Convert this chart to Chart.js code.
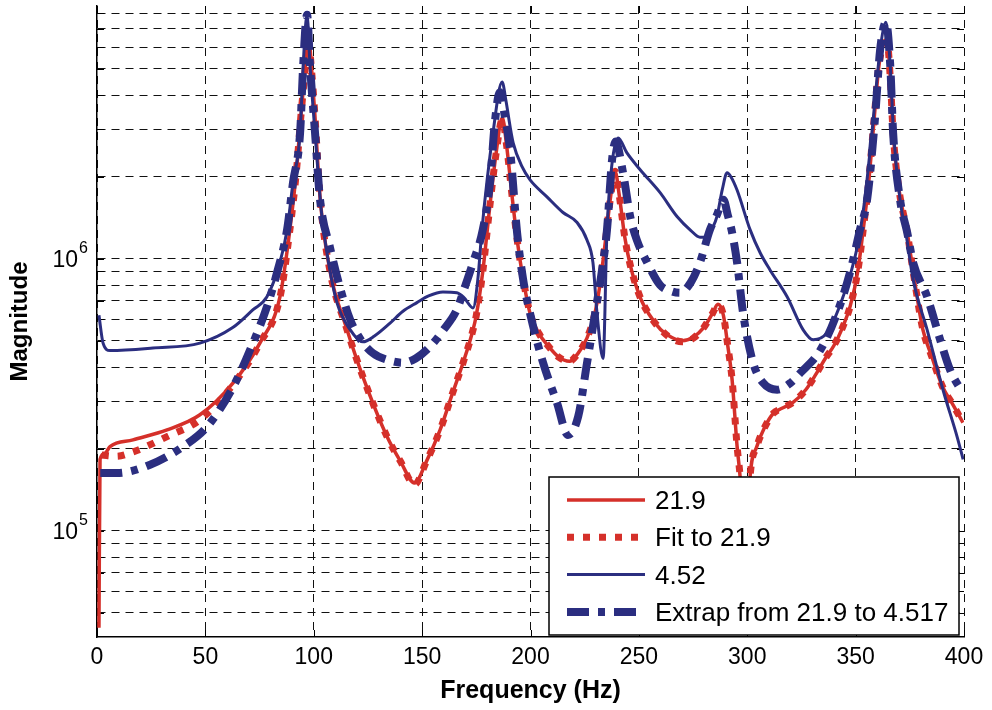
<!DOCTYPE html>
<html>
<head>
<meta charset="utf-8">
<script src="https://cdn.jsdelivr.net/npm/chart.js@4.4.1/dist/chart.umd.min.js"></script>
<style>
  html, body { margin: 0; padding: 0; background: #fff; }
</style>
</head>
<body>
<canvas id="chart" width="992" height="710"></canvas>
<script>
const RED = '#D5302A';
const BLUE = '#2B2E80';

const seriesLabels = ['21.9', 'Fit to 21.9', '4.52', 'Extrap from 21.9 to 4.517'];

// "21.9" measured response
const freq219 = [0.9, 1.4, 3.7, 6, 16.6, 32.3, 47.5, 62.8, 75.2, 84.4, 89, 92, 94, 96, 97.5, 99, 100.5, 103, 107.5,
  115, 122.7, 133.8, 140, 146.5, 152, 158.3, 164, 168.9, 173, 175, 178, 181, 184, 187, 189, 191.5, 194, 196, 199.8,
  204, 208, 213, 218, 222, 226, 229.5, 232, 234.5, 237, 239, 241, 243.5, 246, 250.5, 255, 260, 265, 270, 275, 280,
  284, 286.5, 289, 291, 293, 295.3, 296.7, 298.2, 299.2, 300.2, 301.3, 304.5, 308, 312, 316, 321, 327, 332, 336,
  340, 344, 347.5, 351, 353.5, 356, 358, 361, 364.5, 366, 367.3, 370, 373.8, 377, 381, 385, 390, 395, 399.5];
const mag219 = [4.4e4, 1.83e5, 1.93e5, 2.04e5, 2.16e5, 2.35e5, 2.67e5, 3.5e5, 4.91e5, 7.25e5, 1.28e6, 2.1e6, 3.3e6, 5.0e6, 6.8e6, 5.0e6, 3.4e6, 1.65e6, 9.0e5,
  5.6e5, 3.68e5, 2.22e5, 1.8e5, 1.5e5, 1.8e5, 2.35e5, 3.2e5, 4.15e5, 5.3e5, 6.2e5, 9.0e5, 1.5e6, 2.4e6, 3.3e6, 2.6e6, 1.7e6, 1.15e6, 9.0e5, 6.3e5,
  5.3e5, 4.8e5, 4.35e5, 4.2e5, 4.5e5, 5.1e5, 6.2e5, 8.0e5, 1.15e6, 1.7e6, 2.1e6, 1.7e6, 1.2e6, 9.5e5, 7.25e5, 6.2e5, 5.5e5, 5.15e5, 5.0e5, 5.15e5, 5.6e5,
  6.3e5, 6.8e5, 6.2e5, 4.8e5, 3.6e5, 2.05e5, 1.58e5, 1.0e5, 8.0e4, 1.05e5, 1.58e5, 2.05e5, 2.4e5, 2.7e5, 2.82e5, 2.96e5, 3.3e5, 3.8e5, 4.3e5,
  4.8e5, 5.6e5, 6.7e5, 9.0e5, 1.28e6, 1.9e6, 2.9e6, 5.3e6, 6.3e6, 4.6e6, 2.9e6, 1.8e6, 1.25e6, 8.5e5, 5.5e5, 4.4e5, 3.4e5, 2.9e5, 2.5e5];

// "Fit to 21.9"
const freqFit = [2.2, 9, 16.6, 32.3, 47.5, 62.8, 75.2, 84.4, 89, 92, 94, 96, 97.5, 99, 100.5, 103, 107.5,
  115, 122.7, 133.8, 140, 146.5, 152, 158.3, 164, 168.9, 173, 175, 178, 181, 184, 187, 189, 191.5, 194, 196, 199.8,
  204, 208, 213, 218, 222, 226, 229.5, 232, 234.5, 237, 239, 241, 243.5, 246, 250.5, 255, 260, 265, 270, 275, 280,
  284, 286.5, 289, 291, 293, 295.3, 296.7, 298.2, 299.2, 300.2, 301.3, 304.5, 308, 312, 316, 321, 327, 332, 336,
  340, 344, 347.5, 351, 353.5, 356, 358, 361, 364.5, 366, 367.3, 370, 373.8, 377, 381, 385, 390, 395, 399.5];
const magFit = [1.9e5, 1.88e5, 1.95e5, 2.22e5, 2.56e5, 3.45e5, 4.9e5, 7.2e5, 1.28e6, 2.1e6, 3.3e6, 4.9e6, 6.3e6, 4.9e6, 3.4e6, 1.65e6, 9.0e5,
  5.6e5, 3.68e5, 2.22e5, 1.8e5, 1.48e5, 1.8e5, 2.35e5, 3.2e5, 4.15e5, 5.3e5, 6.2e5, 9.0e5, 1.5e6, 2.4e6, 3.25e6, 2.6e6, 1.7e6, 1.15e6, 9.0e5, 6.3e5,
  5.3e5, 4.8e5, 4.35e5, 4.2e5, 4.5e5, 5.1e5, 6.2e5, 8.0e5, 1.15e6, 1.7e6, 2.1e6, 1.7e6, 1.2e6, 9.5e5, 7.25e5, 6.2e5, 5.5e5, 5.1e5, 4.95e5, 5.1e5, 5.6e5,
  6.3e5, 6.8e5, 6.2e5, 4.8e5, 3.6e5, 2.05e5, 1.58e5, 1.0e5, 8.0e4, 1.05e5, 1.58e5, 2.05e5, 2.4e5, 2.7e5, 2.82e5, 2.96e5, 3.3e5, 3.8e5, 4.3e5,
  4.8e5, 5.6e5, 6.7e5, 9.0e5, 1.28e6, 1.9e6, 2.9e6, 5.3e6, 6.3e6, 4.6e6, 2.9e6, 1.8e6, 1.25e6, 8.5e5, 5.5e5, 4.4e5, 3.4e5, 2.9e5, 2.5e5];

// "4.52" measured response
const freq452 = [0.9, 2.8, 6, 25.8, 47.5, 62.8, 72, 78.4, 84.4, 87.7, 90.4, 93.7, 95.1, 96.9, 98.3, 100.6, 103.5, 107,
  110.7, 116.7, 122.7, 128, 135.2, 141, 147.6, 153, 159.6, 166, 169.3, 173.5, 175.7, 177.6, 182.7, 186.9, 188.7, 190.6,
  192, 196.1, 199.8, 207.6, 215, 221.5, 226.1, 228.8, 230.7, 233.5, 235.3, 237.5, 240.4, 244.5, 250.5, 259.8, 267.6,
  274, 278.2, 281.5, 284, 286, 288.5, 290.7, 292.5, 295.3, 301.3, 306, 310.5, 318.4, 325.8, 330.4, 336.8, 344.2,
  350.7, 354, 357.5, 361.3, 364, 366, 367.5, 370.5, 373.5, 376.5, 383, 390.3, 396.8, 399.6];
const mag452 = [6.2e5, 4.9e5, 4.6e5, 4.7e5, 4.9e5, 5.6e5, 6.5e5, 7.25e5, 9.7e5, 1.28e6, 1.9e6, 2.9e6, 5.1e6, 7.9e6, 5.1e6, 2.9e6, 1.5e6, 9.5e5,
  6.9e5, 5.5e5, 4.95e5, 5.2e5, 5.8e5, 6.4e5, 6.9e5, 7.3e5, 7.55e5, 7.5e5, 7.2e5, 6.6e5, 8.4e5, 1.28e6, 2.9e6, 4.47e6, 3.8e6, 3.06e6,
  2.67e6, 2.18e6, 1.95e6, 1.69e6, 1.48e6, 1.36e6, 1.17e6, 9.7e5, 6.3e5, 4.3e5, 1.28e6, 2.2e6, 2.78e6, 2.45e6, 2.13e6, 1.75e6, 1.43e6,
  1.27e6, 1.2e6, 1.2e6, 1.3e6, 1.43e6, 1.8e6, 2.07e6, 2.0e6, 1.79e6, 1.28e6, 1.05e6, 9.1e5, 7.25e5, 5.48e5, 5.04e5, 5.35e5, 7.25e5,
  1.1e6, 1.6e6, 2.9e6, 5.86e6, 7.4e6, 5.1e6, 2.9e6, 1.65e6, 1.2e6, 8.4e5, 5.48e5, 3.3e5, 2.22e5, 1.83e5];

// "Extrap from 21.9 to 4.517"
const freqExt = [1.5, 9, 24.5, 39.7, 50.7, 62.8, 72, 78.4, 83, 87.7, 90.4, 93.7, 95.1, 96.9, 98.3, 100.6, 102.9, 107.5,
  112, 116.7, 122, 127.3, 134, 141.2, 147, 153.6, 160, 166, 170, 173.5, 178, 181.3, 183.6, 185.9, 188, 190.6, 193.8,
  196.5, 199.8, 205.8, 212.2, 217.3, 222, 226.1, 229.8, 233, 235.3, 237.6, 239.2, 242.7, 246, 249.1, 253.8, 259.8,
  265, 269, 274, 278.2, 282.8, 286, 289, 291, 293, 295.3, 298.1, 302.7, 307.3, 313.8, 320, 324.4, 333.6, 341.4,
  347.4, 352, 355.3, 359, 361.3, 364, 366, 367.3, 370.5, 373.8, 376.5, 383, 389, 393.6, 399.1];
const magExt = [1.63e5, 1.63e5, 1.75e5, 2.04e5, 2.41e5, 3.38e5, 4.91e5, 6.66e5, 8.86e5, 1.28e6, 1.9e6, 2.9e6, 5.1e6, 7.9e6, 5.1e6, 2.9e6, 1.65e6, 1.1e6,
  7.9e5, 6.0e5, 5.0e5, 4.5e5, 4.25e5, 4.15e5, 4.3e5, 4.75e5, 5.5e5, 6.5e5, 8.0e5, 9.7e5, 1.28e6, 1.9e6, 3.2e6, 4.1e6, 3.4e6, 2.5e6, 1.25e6,
  8.5e5, 6.3e5, 4.15e5, 2.96e5, 2.25e5, 2.63e5, 4.15e5, 6.3e5, 9.1e5, 1.28e6, 2.3e6, 2.7e6, 2.07e6, 1.43e6, 1.17e6, 9.7e5, 8.0e5,
  7.6e5, 7.5e5, 8.2e5, 9.7e5, 1.28e6, 1.45e6, 1.65e6, 1.45e6, 1.25e6, 9.7e5, 6.3e5, 4.15e5, 3.5e5, 3.3e5, 3.5e5, 3.8e5, 4.6e5, 6.3e5,
  8.9e5, 1.28e6, 1.65e6, 3.33e6, 5.86e6, 7.4e6, 5.1e6, 2.9e6, 1.65e6, 1.25e6, 9.7e5, 7.25e5, 5.04e5, 3.9e5, 3.24e5];

// axis ticks
const xTicks = [0, 50, 100, 150, 200, 250, 300, 350, 400];
const yGridTicks = [5e4, 6e4, 7e4, 8e4, 9e4, 1e5, 2e5, 3e5, 4e5, 5e5, 6e5, 7e5, 8e5, 9e5,
  1e6, 2e6, 3e6, 4e6, 5e6, 6e6, 7e6, 8e6];
const yDecadeLabels = [[1e5, '10', '5'], [1e6, '10', '6']];

const FONT = '"Liberation Sans", Arial, Helvetica, sans-serif';
Chart.defaults.font.family = FONT;
Chart.defaults.color = '#000';

const toPoints = (xs, ys) => xs.map((x, i) => ({ x: x, y: ys[i] }));

// MATLAB-style "10^n" labels on the y axis
const magnitudeLabels = {
  id: 'magnitudeLabels',
  afterDraw(chart) {
    const ctx = chart.ctx;
    const y = chart.scales.y;
    ctx.save();
    ctx.fillStyle = '#000';
    yDecadeLabels.forEach(([v, base, exp]) => {
      const py = y.getPixelForValue(v);
      ctx.font = '23px ' + FONT;
      ctx.textAlign = 'right';
      ctx.textBaseline = 'alphabetic';
      ctx.fillText(base, 78, py + 8);
      ctx.font = '16px ' + FONT;
      ctx.textAlign = 'left';
      ctx.fillText(exp, 79, py - 6);
    });
    ctx.restore();
  }
};

// short inward tick marks on all four sides
const insideTicks = {
  id: 'insideTicks',
  beforeDatasetsDraw(chart) {
    const { ctx, chartArea: a, scales } = chart;
    ctx.save();
    ctx.strokeStyle = '#000';
    ctx.lineWidth = 1;
    ctx.beginPath();
    scales.y.ticks.forEach(t => {
      const py = Math.round(scales.y.getPixelForValue(t.value)) + 0.5;
      ctx.moveTo(a.left, py); ctx.lineTo(a.left + 7, py);
      ctx.moveTo(a.right - 7, py); ctx.lineTo(a.right, py);
    });
    scales.x.ticks.forEach(t => {
      const px = Math.round(scales.x.getPixelForValue(t.value)) + 0.5;
      ctx.moveTo(px, a.bottom); ctx.lineTo(px, a.bottom - 7);
      ctx.moveTo(px, a.top); ctx.lineTo(px, a.top + 7);
    });
    ctx.stroke();
    ctx.restore();
  }
};

// boxed legend in the lower right of the plot
const boxLegend = {
  id: 'boxLegend',
  afterDatasetsDraw(chart) {
    const { ctx, chartArea: a } = chart;
    const left = a.right - 415, right = a.right - 5;
    const top = a.bottom - 160, bottom = a.bottom - 2;
    ctx.save();
    ctx.fillStyle = '#fff';
    ctx.fillRect(left, top, right - left, bottom - top);
    ctx.strokeStyle = '#000';
    ctx.lineWidth = 1.5;
    ctx.strokeRect(left, top, right - left, bottom - top);
    chart.data.datasets.forEach((ds, i) => {
      const y = top + 23 + i * 37.3;
      ctx.beginPath();
      ctx.setLineDash(ds.borderDash || []);
      ctx.lineWidth = ds.borderWidth;
      ctx.strokeStyle = ds.borderColor;
      ctx.moveTo(left + 18, y);
      ctx.lineTo(left + 96, y);
      ctx.stroke();
      ctx.setLineDash([]);
      ctx.fillStyle = '#000';
      ctx.font = '26px ' + FONT;
      ctx.textAlign = 'left';
      ctx.textBaseline = 'middle';
      ctx.fillText(ds.label, left + 106, y + 2);
    });
    ctx.restore();
  }
};

const ctx = document.getElementById('chart').getContext('2d');

new Chart(ctx, {
  type: 'line',
  data: {
    datasets: [
      { label: seriesLabels[0], data: toPoints(freq219, mag219), borderColor: RED, borderWidth: 3.5, order: 3 },
      { label: seriesLabels[1], data: toPoints(freqFit, magFit), borderColor: RED, borderWidth: 7, borderDash: [7, 9], order: 2 },
      { label: seriesLabels[2], data: toPoints(freq452, mag452), borderColor: BLUE, borderWidth: 3, order: 1 },
      { label: seriesLabels[3], data: toPoints(freqExt, magExt), borderColor: BLUE, borderWidth: 8, borderDash: [22, 9, 7, 9], order: 0 },
    ],
  },
  options: {
    responsive: false,
    animation: false,
    layout: { padding: { top: 6, right: 28, left: 0, bottom: 0 } },
    elements: {
      point: { radius: 0 },
      line: { cubicInterpolationMode: 'monotone', fill: false, borderJoinStyle: 'round' },
    },
    plugins: {
      legend: { display: false },
      tooltip: { enabled: false },
    },
    scales: {
      x: {
        type: 'linear',
        min: 0,
        max: 400,
        afterBuildTicks: s => { s.ticks = xTicks.map(v => ({ value: v })); },
        afterFit: s => { s.height = 73; },
        ticks: { font: { size: 23 }, color: '#000', padding: 7, maxRotation: 0 },
        grid: { color: '#111', lineWidth: 1, drawTicks: false },
        border: { color: '#000', width: 1.5, dash: [8, 6] },
        title: { display: true, text: 'Frequency (Hz)', color: '#000', font: { size: 25, weight: 'bold' }, padding: { top: 0, bottom: 4 } },
      },
      y: {
        type: 'logarithmic',
        min: 4.07e4,
        max: 8.5e6,
        afterBuildTicks: s => { s.ticks = yGridTicks.map(v => ({ value: v })); },
        afterFit: s => { s.width = 97; },
        ticks: { display: false },
        grid: { color: '#111', lineWidth: 1, drawTicks: false },
        border: { color: '#000', width: 1.5, dash: [8, 6] },
        title: { display: true, text: 'Magnitude', color: '#000', font: { size: 24, weight: 'bold' }, padding: { top: 6, bottom: 0 } },
      },
    },
  },
  plugins: [insideTicks, boxLegend, magnitudeLabels],
});
</script>
</body>
</html>
